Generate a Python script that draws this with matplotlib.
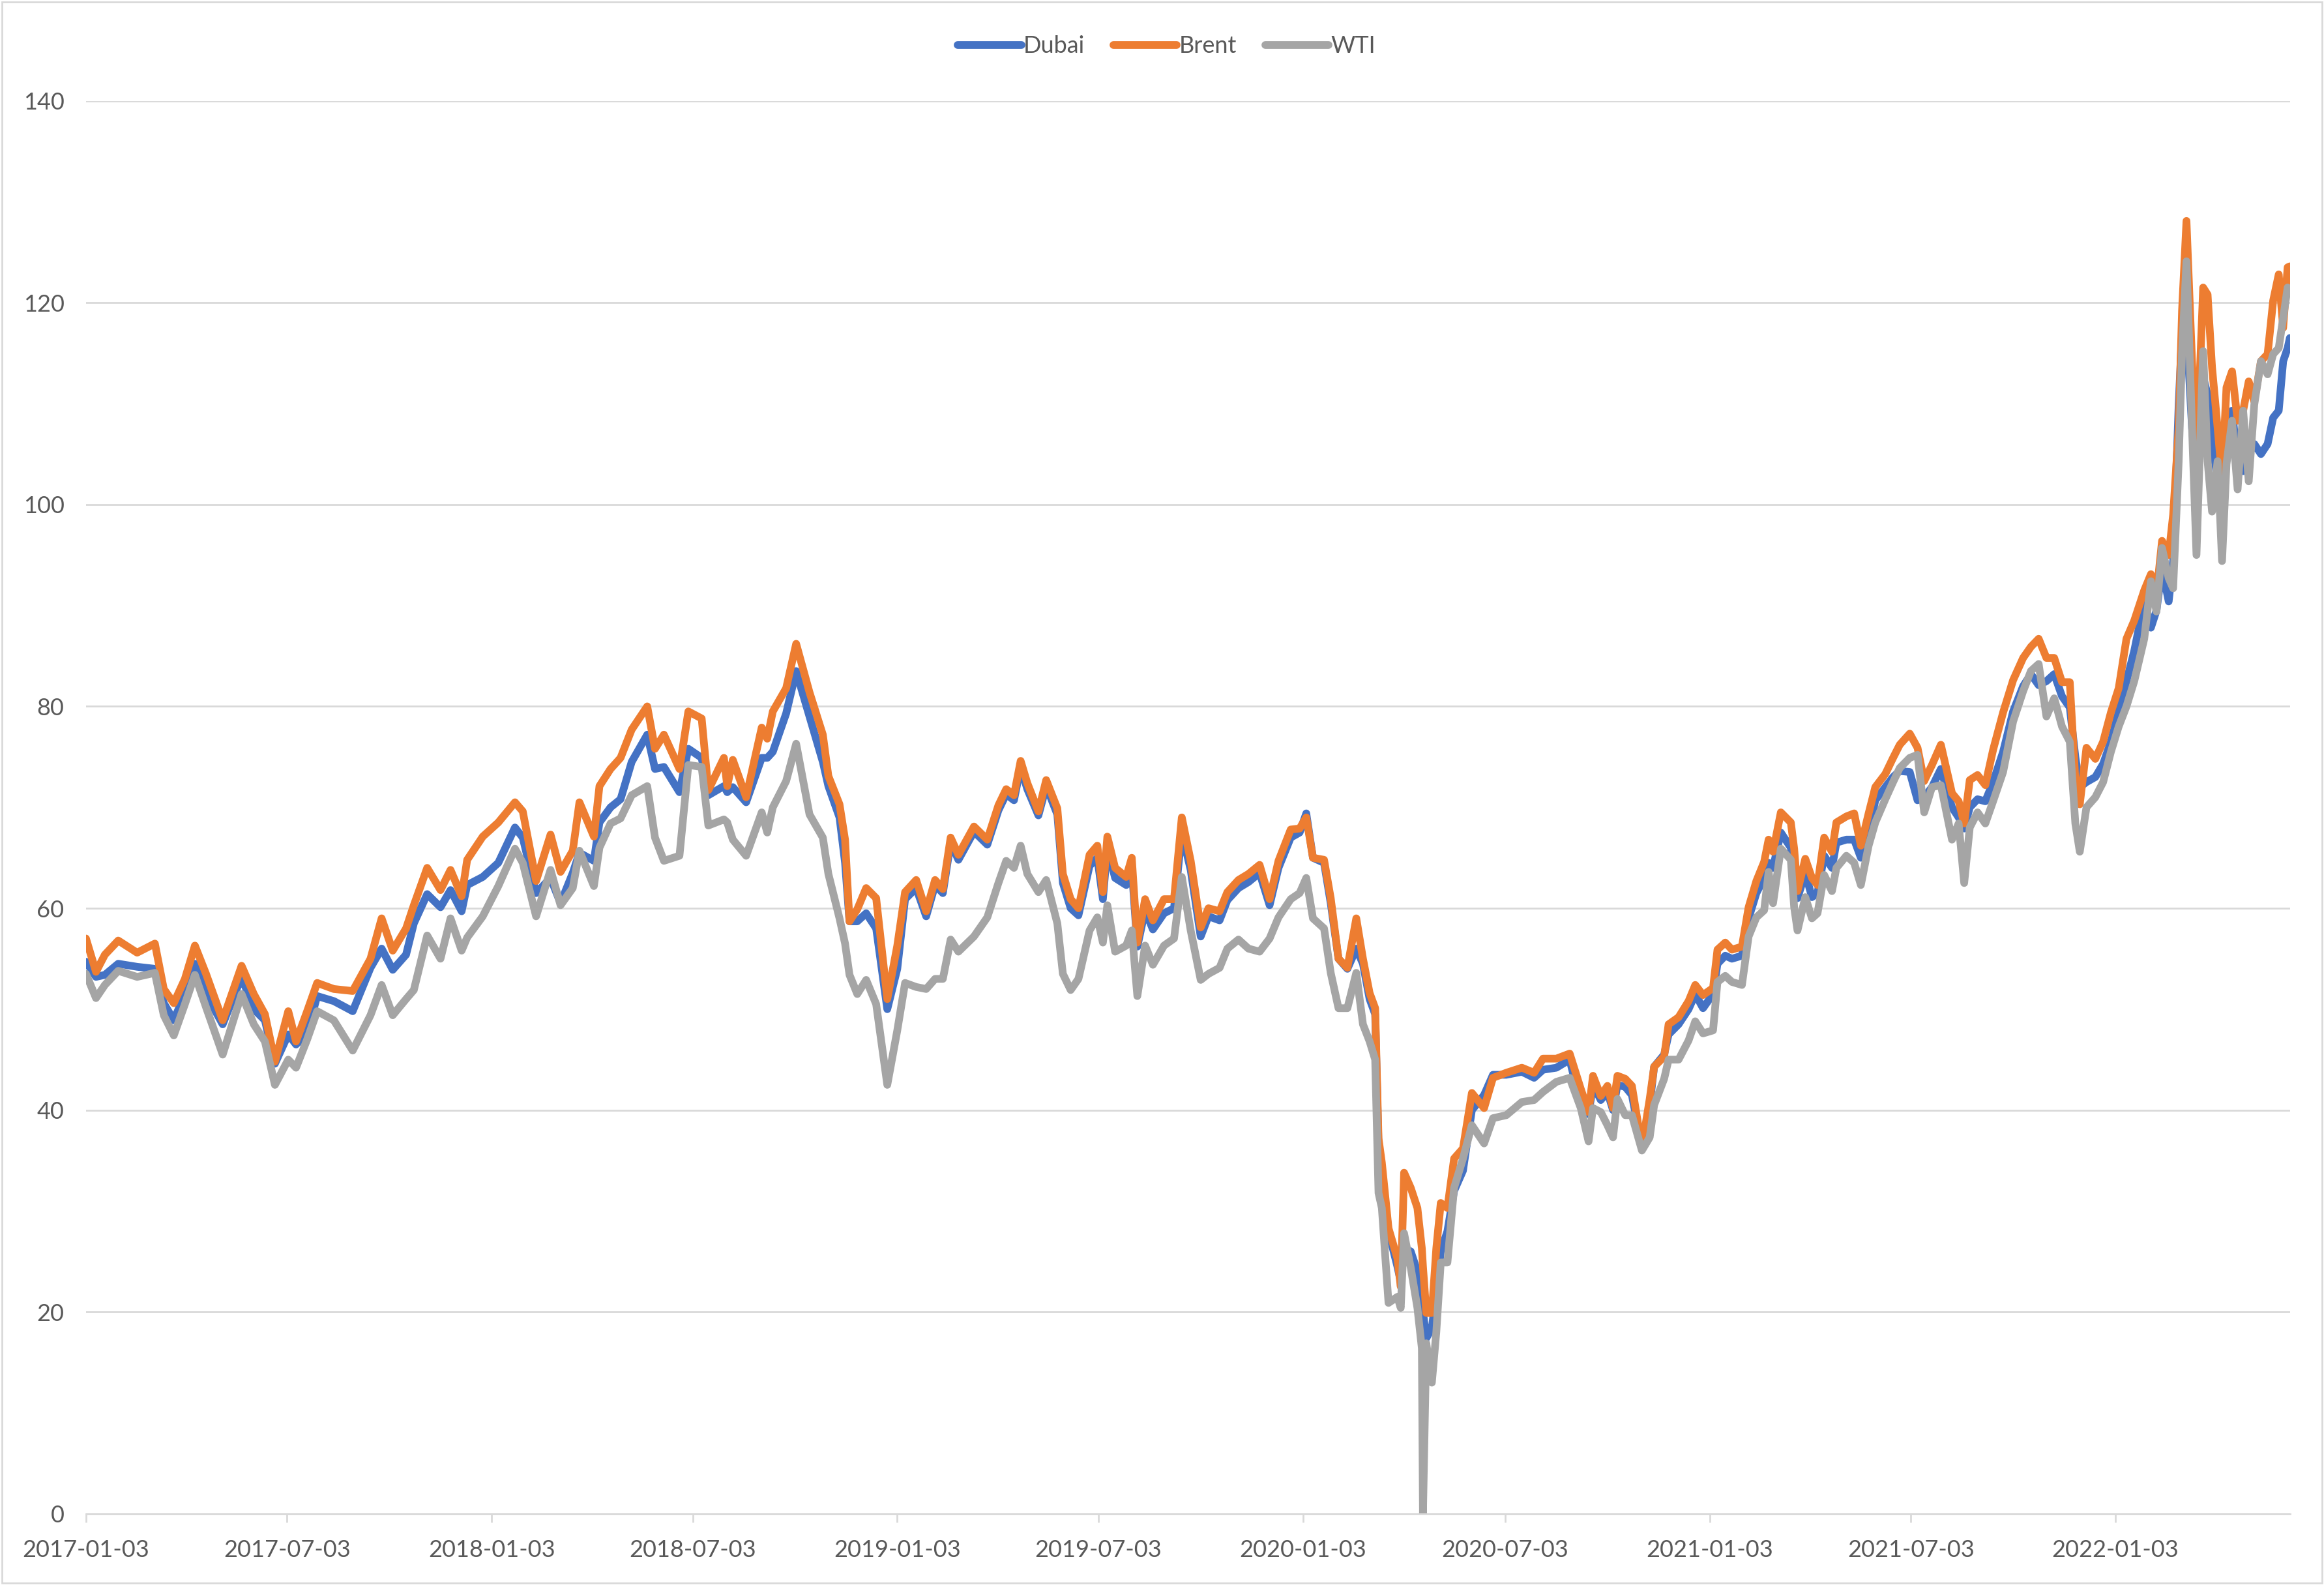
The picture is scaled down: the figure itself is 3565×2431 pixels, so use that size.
import matplotlib
matplotlib.use("Agg")
import matplotlib.pyplot as plt
import matplotlib.dates as mdates
from matplotlib.patches import Rectangle
import pandas as pd

# ---------------- data ----------------
dates = [
    "2017-01-03", "2017-01-12", "2017-01-20", "2017-02-01", "2017-02-18", "2017-03-06", "2017-03-14",
    "2017-03-23", "2017-04-02", "2017-04-11", "2017-04-21", "2017-05-06", "2017-05-23", "2017-06-03",
    "2017-06-13", "2017-06-22", "2017-07-04", "2017-07-11", "2017-07-21", "2017-07-30", "2017-08-14",
    "2017-08-31", "2017-09-16", "2017-09-26", "2017-10-06", "2017-10-18", "2017-10-25", "2017-11-06",
    "2017-11-18", "2017-11-27", "2017-12-07", "2017-12-12", "2017-12-26",
    "2018-01-09", "2018-01-24", "2018-01-31", "2018-02-12", "2018-02-25", "2018-03-06", "2018-03-17",
    "2018-03-23", "2018-04-05", "2018-04-10", "2018-04-20", "2018-04-29", "2018-05-09", "2018-05-23",
    "2018-05-30", "2018-06-07", "2018-06-21", "2018-06-29", "2018-07-11", "2018-07-17", "2018-07-31",
    "2018-08-03", "2018-08-08", "2018-08-20", "2018-09-03", "2018-09-08", "2018-09-13", "2018-09-25",
    "2018-10-04", "2018-10-16", "2018-10-28", "2018-11-02", "2018-11-12", "2018-11-17", "2018-11-21",
    "2018-11-28", "2018-12-06", "2018-12-15", "2018-12-25",
    "2019-01-03", "2019-01-10", "2019-01-20", "2019-01-29", "2019-02-06", "2019-02-13", "2019-02-20",
    "2019-02-27", "2019-03-13", "2019-03-25", "2019-04-04", "2019-04-11", "2019-04-18", "2019-04-24",
    "2019-04-30", "2019-05-10", "2019-05-17", "2019-05-27", "2019-06-01", "2019-06-08", "2019-06-15",
    "2019-06-25", "2019-07-02", "2019-07-07", "2019-07-11", "2019-07-18", "2019-07-28", "2019-08-02",
    "2019-08-07", "2019-08-14", "2019-08-21", "2019-08-31", "2019-09-09", "2019-09-16", "2019-09-24",
    "2019-10-03", "2019-10-10", "2019-10-20", "2019-10-27", "2019-11-06", "2019-11-15", "2019-11-25",
    "2019-12-04", "2019-12-12", "2019-12-23", "2019-12-31",
    "2020-01-06", "2020-01-12", "2020-01-22", "2020-01-28", "2020-02-04", "2020-02-12", "2020-02-20",
    "2020-02-26", "2020-03-03", "2020-03-08", "2020-03-11", "2020-03-14", "2020-03-20", "2020-03-28",
    "2020-03-31", "2020-04-03", "2020-04-09", "2020-04-15", "2020-04-19", "2020-04-20", "2020-04-23",
    "2020-04-28", "2020-05-02", "2020-05-06", "2020-05-12", "2020-05-18", "2020-05-26", "2020-06-03",
    "2020-06-14", "2020-06-22", "2020-07-04", "2020-07-18", "2020-07-29", "2020-08-06", "2020-08-18",
    "2020-08-30", "2020-09-09", "2020-09-16", "2020-09-20", "2020-09-27", "2020-10-03", "2020-10-08",
    "2020-10-12", "2020-10-19", "2020-10-25", "2020-11-03", "2020-11-10", "2020-11-14", "2020-11-23",
    "2020-11-27", "2020-12-06", "2020-12-15", "2020-12-21", "2020-12-28",
    "2021-01-06", "2021-01-10", "2021-01-17", "2021-01-23", "2021-02-01", "2021-02-07", "2021-02-14",
    "2021-02-21", "2021-02-25", "2021-03-01", "2021-03-08", "2021-03-17", "2021-03-20", "2021-03-23",
    "2021-03-30", "2021-04-05", "2021-04-10", "2021-04-16", "2021-04-23", "2021-04-27", "2021-05-06",
    "2021-05-13", "2021-05-19", "2021-05-26", "2021-06-01", "2021-06-10", "2021-06-17", "2021-06-23",
    "2021-07-02", "2021-07-09", "2021-07-15", "2021-07-22", "2021-07-30", "2021-08-09", "2021-08-15",
    "2021-08-20", "2021-08-25", "2021-09-01", "2021-09-08", "2021-09-15", "2021-09-24", "2021-10-03",
    "2021-10-12", "2021-10-19", "2021-10-26", "2021-11-02", "2021-11-09", "2021-11-16", "2021-11-23",
    "2021-11-28", "2021-12-02", "2021-12-08", "2021-12-16", "2021-12-23", "2021-12-30",
    "2022-01-06", "2022-01-13", "2022-01-20", "2022-01-29", "2022-02-04", "2022-02-09", "2022-02-14",
    "2022-02-20", "2022-02-24", "2022-03-01", "2022-03-04", "2022-03-08", "2022-03-13", "2022-03-17",
    "2022-03-23", "2022-03-27", "2022-03-31", "2022-04-05", "2022-04-09", "2022-04-13", "2022-04-18",
    "2022-04-23", "2022-04-28", "2022-05-03", "2022-05-08", "2022-05-14", "2022-05-20", "2022-05-25",
    "2022-05-30", "2022-06-03", "2022-06-07", "2022-06-09",
]

brent = [
    57.0, 53.7, 55.4, 56.8, 55.6, 56.5, 52.0, 50.6, 53.0, 56.3, 53.5, 48.9, 54.3, 51.5, 49.5, 44.8,
    49.8, 46.8, 49.8, 52.6, 52.0, 51.8, 55.0, 59.0, 55.8, 58.0, 60.3, 64.0, 61.8, 63.8, 61.2, 64.8, 67.1,
    68.5, 70.5, 69.6, 62.7, 67.3, 63.6, 65.7, 70.5, 67.1, 72.1, 73.8, 74.9, 77.7, 80.0, 75.8, 77.2,
    73.8, 79.5, 78.8, 71.7, 74.9, 72.1, 74.7, 71.0, 77.9, 76.8, 79.5, 81.8, 86.2, 81.4, 77.2, 73.1,
    70.3, 66.8, 58.7, 59.9, 62.0, 61.0, 51.0,
    56.3, 61.6, 62.8, 59.7, 62.8, 61.9, 67.0, 65.3, 68.1, 66.8, 70.2, 71.8, 71.2, 74.6, 72.4, 69.6,
    72.7, 69.9, 63.4, 60.9, 60.0, 65.3, 66.2, 61.6, 67.1, 64.0, 63.1, 65.0, 56.6, 60.9, 58.8, 60.9,
    60.9, 69.0, 64.7, 58.1, 60.0, 59.7, 61.6, 62.8, 63.4, 64.3, 60.9, 64.7, 67.8, 67.9,
    69.0, 65.0, 64.8, 61.0, 55.0, 54.1, 59.0, 55.0, 51.6, 50.1, 37.2, 34.8, 28.3, 25.3, 22.5, 33.8,
    32.3, 30.3, 26.3, 24.5, 19.9, 19.9, 26.3, 30.8, 30.3, 35.2, 36.2, 41.7, 40.2, 43.2, 43.7, 44.2,
    43.7, 45.1, 45.1, 45.6, 42.1, 39.8, 43.4, 41.4, 42.4, 40.2, 43.4, 43.1, 42.4, 36.3, 41.1, 44.3,
    45.3, 48.5, 49.2, 50.8, 52.4, 51.4,
    52.1, 55.9, 56.6, 55.9, 56.2, 60.1, 62.7, 64.6, 66.8, 65.6, 69.5, 68.5, 65.9, 61.7, 64.9, 63.0,
    62.3, 67.0, 65.6, 68.5, 69.1, 69.4, 66.2, 69.4, 72.0, 73.3, 74.9, 76.2, 77.3, 75.9, 72.6, 74.2,
    76.2, 71.4, 70.6, 68.4, 72.7, 73.2, 72.2, 75.7, 79.4, 82.6, 84.8, 85.9, 86.7, 84.8, 84.8, 82.4,
    82.4, 72.7, 70.3, 75.9, 74.8, 76.5, 79.4,
    81.8, 86.7, 88.5, 91.5, 93.1, 91.1, 96.4, 95.0, 99.0, 107.6, 119.2, 128.1, 114.2, 104.3, 121.5,
    120.8, 113.6, 107.6, 102.6, 111.6, 113.2, 108.3, 109.3, 112.2, 110.2, 114.2, 114.9, 120.2, 122.8,
    117.5, 123.5, 123.6,
]

dubai = [
    54.7, 53.2, 53.4, 54.5, 54.2, 54.0, 50.6, 48.9, 51.5, 54.5, 51.5, 48.5, 53.2, 50.0, 48.9, 44.6,
    47.5, 46.5, 47.6, 51.3, 50.8, 49.8, 54.1, 56.0, 53.9, 55.4, 58.5, 61.4, 60.1, 61.8, 59.7, 62.3, 63.1,
    64.5, 68.0, 67.0, 61.5, 63.0, 60.5, 63.5, 65.5, 64.7, 68.5, 70.0, 70.8, 74.5, 77.2, 73.8, 74.0,
    71.5, 75.8, 74.9, 71.2, 72.1, 71.5, 72.0, 70.5, 74.9, 74.9, 75.5, 79.3, 83.5, 79.0, 74.5, 72.1,
    69.0, 64.5, 58.7, 58.7, 59.5, 58.0, 50.0,
    54.0, 60.9, 62.0, 59.2, 62.3, 61.5, 66.5, 64.8, 67.6, 66.3, 69.7, 71.3, 70.7, 74.0, 71.8, 69.2,
    72.1, 69.3, 62.5, 60.0, 59.3, 64.2, 65.0, 60.9, 66.0, 63.0, 62.3, 64.0, 56.2, 59.8, 57.9, 59.5,
    60.0, 67.5, 63.8, 57.2, 59.2, 58.8, 60.8, 62.0, 62.6, 63.5, 60.3, 64.0, 67.0, 67.5,
    69.4, 65.0, 64.5, 60.5, 55.0, 54.0, 56.0, 54.5, 51.0, 49.5, 36.5, 34.0, 28.0, 24.5, 23.0, 26.3,
    26.0, 24.0, 21.0, 20.0, 17.4, 18.4, 22.0, 26.0, 28.0, 32.0, 34.0, 40.0, 41.5, 43.5, 43.5, 43.8,
    43.2, 44.0, 44.2, 45.0, 40.5, 39.6, 42.5, 41.0, 41.8, 40.0, 42.5, 42.3, 41.5, 36.3, 40.5, 44.3,
    45.5, 47.5, 48.5, 50.0, 51.5, 50.1,
    51.5, 54.5, 55.3, 55.0, 55.3, 59.0, 61.5, 63.0, 64.5, 64.0, 67.5, 66.0, 63.5, 61.0, 63.5, 61.1,
    61.5, 65.2, 64.0, 66.5, 66.8, 66.8, 65.0, 67.5, 70.7, 72.0, 73.0, 73.6, 73.5, 70.7, 71.0, 72.0,
    73.8, 70.0, 69.0, 67.9, 70.0, 70.8, 70.6, 72.5, 75.5, 79.5, 82.0, 83.2, 82.1, 82.5, 83.2, 81.0,
    79.9, 75.0, 72.0, 72.5, 73.0, 74.3, 76.5,
    79.5, 82.5, 85.5, 90.4, 87.8, 89.5, 93.7, 90.4, 94.4, 110.0, 117.0, 117.5, 107.6, 102.6, 112.6,
    110.9, 106.0, 102.6, 97.7, 105.0, 109.3, 104.3, 103.3, 105.0, 106.0, 105.0, 106.0, 108.6, 109.3,
    114.2, 115.5, 116.5,
]

wti = [
    53.5, 51.1, 52.4, 53.8, 53.2, 53.6, 49.4, 47.4, 50.5, 53.4, 50.2, 45.5, 51.5, 48.5, 46.8, 42.5,
    45.0, 44.2, 47.0, 49.8, 48.9, 45.9, 49.4, 52.4, 49.4, 51.0, 51.9, 57.3, 55.0, 59.0, 55.8, 57.1, 59.2,
    62.2, 65.9, 64.5, 59.2, 63.8, 60.3, 62.0, 65.7, 62.2, 66.0, 68.4, 68.9, 71.2, 72.1, 67.0, 64.7,
    65.2, 74.2, 74.0, 68.2, 68.8, 68.5, 66.8, 65.2, 69.5, 67.5, 70.0, 72.6, 76.3, 69.3, 67.0, 63.4,
    59.0, 56.5, 53.4, 51.5, 52.9, 50.5, 42.5,
    47.9, 52.6, 52.2, 52.0, 53.0, 53.0, 56.9, 55.7, 57.2, 59.1, 62.5, 64.7, 64.0, 66.2, 63.4, 61.6,
    62.8, 58.5, 53.5, 51.9, 53.0, 57.8, 59.1, 56.6, 60.3, 55.7, 56.3, 57.8, 51.3, 56.3, 54.4, 56.3,
    57.0, 63.1, 57.8, 52.9, 53.5, 54.1, 56.0, 56.9, 56.0, 55.7, 57.0, 59.1, 60.9, 61.5,
    63.0, 59.0, 58.0, 53.6, 50.1, 50.1, 53.6, 48.5, 46.8, 45.0, 31.8, 30.3, 20.9, 21.5, 20.4, 27.8,
    24.4, 20.4, 16.4, 0.0, 16.9, 13.0, 18.0, 24.9, 24.9, 32.3, 35.2, 38.5, 36.7, 39.2, 39.5, 40.8,
    41.0, 41.8, 42.8, 43.2, 40.2, 36.9, 40.2, 39.8, 38.5, 37.3, 41.1, 39.5, 39.5, 36.0, 37.3, 40.5,
    43.1, 45.0, 45.0, 46.9, 48.8, 47.6,
    47.9, 52.7, 53.3, 52.7, 52.4, 57.2, 59.1, 59.8, 63.6, 60.5, 65.9, 64.8, 60.1, 57.8, 61.1, 59.0,
    59.5, 63.3, 61.7, 64.0, 65.2, 64.5, 62.3, 66.2, 68.5, 70.8, 72.5, 73.9, 74.9, 75.2, 69.5, 72.0,
    72.2, 66.8, 68.4, 62.5, 68.0, 69.5, 68.4, 70.6, 73.5, 78.5, 81.5, 83.5, 84.2, 79.0, 80.8, 78.0,
    76.5, 68.4, 65.6, 70.0, 71.0, 72.5, 75.5,
    78.0, 80.0, 82.5, 86.7, 92.4, 89.4, 95.7, 92.7, 91.7, 104.3, 115.0, 124.1, 107.6, 95.0, 115.2,
    104.3, 99.3, 104.3, 94.4, 104.0, 108.3, 101.5, 109.3, 102.3, 109.9, 114.2, 112.9, 114.9, 115.5,
    118.5, 121.5, 121.0,
]

series_names = ["Dubai", "Brent", "WTI"]
series_colors = ["#4472C4", "#ED7D31", "#A5A5A5"]
tick_dates = ["2017-01-03", "2017-07-03", "2018-01-03", "2018-07-03", "2019-01-03", "2019-07-03",
              "2020-01-03", "2020-07-03", "2021-01-03", "2021-07-03", "2022-01-03"]
y_ticks = [0, 20, 40, 60, 80, 100, 120, 140]

assert len(dates) == len(brent) == len(dubai) == len(wti)

# ---------------- figure ----------------
plt.rcParams['font.family'] = ['Lato', 'DejaVu Sans']
text_color = "#595959"
grid_color = "#D9D9D9"

fig = plt.figure(figsize=(35.65, 24.31), dpi=100)
ax = fig.add_axes([0.0370, 0.0449, 0.9483, 0.8915])

x = pd.to_datetime(dates)
for name, vals, col in zip(series_names, [dubai, brent, wti], series_colors):
    ax.plot(x, vals, color=col, lw=8.5, label=name,
            solid_capstyle='round', solid_joinstyle='round')

ax.set_ylim(0, 140)
ax.set_yticks(y_ticks)
ax.set_xlim(pd.Timestamp("2017-01-03"), pd.Timestamp("2022-06-09"))
ax.set_xticks(pd.to_datetime(tick_dates))
ax.xaxis.set_major_formatter(mdates.DateFormatter("%Y-%m-%d"))

ax.grid(axis='y', color=grid_color, lw=2)
ax.set_axisbelow(True)
for s in ["top", "right", "left"]:
    ax.spines[s].set_visible(False)
ax.spines["bottom"].set_color(grid_color)
ax.spines["bottom"].set_linewidth(2)

ax.tick_params(axis='y', length=0, pad=24, labelsize=26, labelcolor=text_color)
ax.tick_params(axis='x', length=9, width=2, color=grid_color, pad=19,
               labelsize=26, labelcolor=text_color)

leg = fig.legend(loc='upper center', bbox_to_anchor=(0.502, 0.991), ncol=3, frameon=False,
                 fontsize=26, handlelength=2.7, handletextpad=0.1, columnspacing=1.2)
for t in leg.get_texts():
    t.set_color(text_color)

fig.patches.append(Rectangle((0.0008, 0.0012), 0.9984, 0.9976, transform=fig.transFigure,
                             fill=False, edgecolor=grid_color, lw=2))

fig.savefig("out.png", dpi=100, facecolor="white")
